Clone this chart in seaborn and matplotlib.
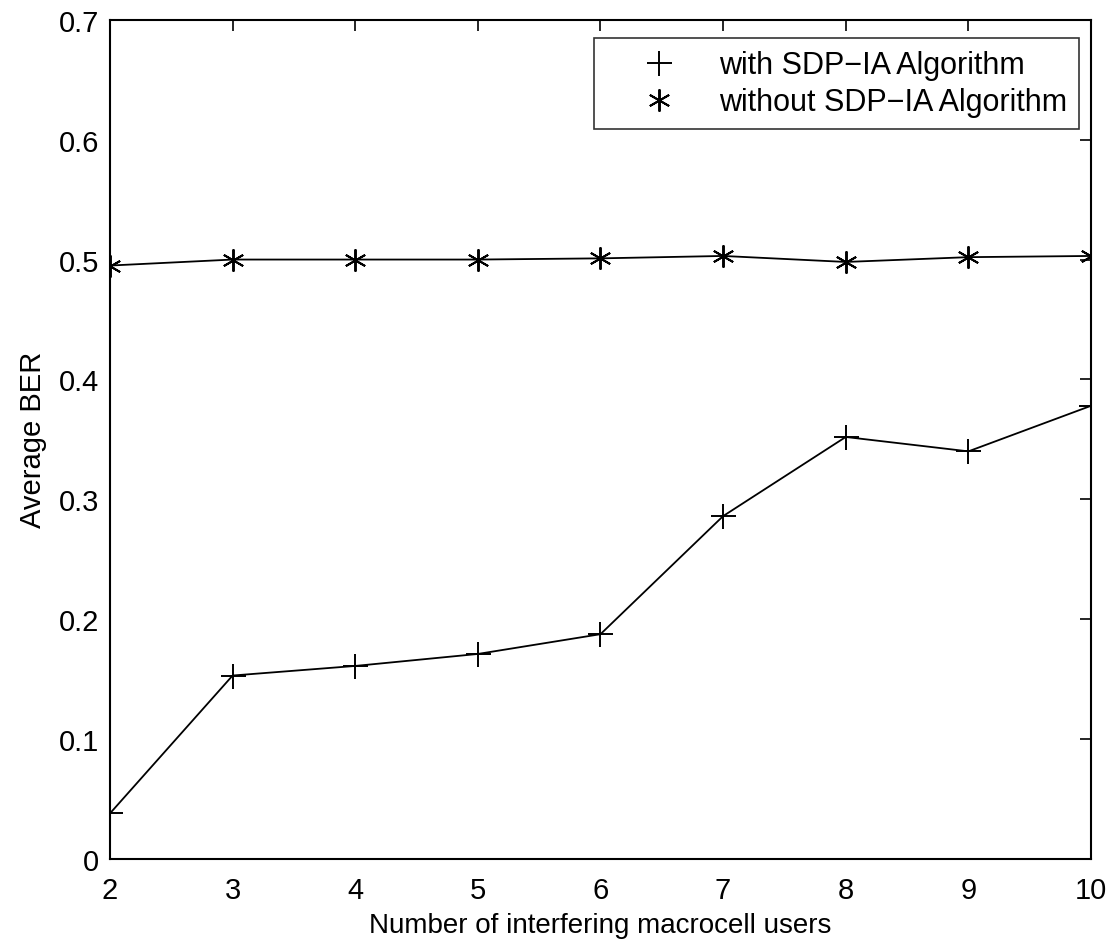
import numpy as np
import pandas as pd
import matplotlib
matplotlib.use('Agg')
import matplotlib.pyplot as plt
import seaborn as sns
from matplotlib.lines import Line2D

users = [2, 3, 4, 5, 6, 7, 8, 9, 10]
ber_with = [0.038, 0.153, 0.161, 0.171, 0.1875, 0.286, 0.352, 0.340, 0.378]
ber_without = [0.495, 0.500, 0.500, 0.500, 0.501, 0.503, 0.498, 0.502, 0.503]
labels = ['with SDP\u2212IA Algorithm', 'without SDP\u2212IA Algorithm']

sns.set_style('white')
plt.rcParams['font.family'] = ['Liberation Sans', 'DejaVu Sans']

df = pd.DataFrame({'users': users, 'with': ber_with, 'without': ber_without})

# matlab style asterisk (6 arms)
star = (6, 2, 0)

fig, ax = plt.subplots(figsize=(11.11, 9.45), dpi=100)
fig.subplots_adjust(left=0.099, right=0.982, top=0.978, bottom=0.090)

sns.lineplot(data=df, x='users', y='with', marker='+', color='black', lw=1.3,
             markersize=18, markeredgewidth=1.4, mec='black', ax=ax)
sns.lineplot(data=df, x='users', y='without', marker=star, color='black', lw=1.3,
             markersize=16, markeredgewidth=1.4, mec='black', ax=ax)

ax.set_xlim(2, 10)
ax.set_ylim(0, 0.7)
ax.set_xticks(users)
ax.set_yticks(np.arange(0, 0.71, 0.1))
ax.set_yticklabels(['0', '0.1', '0.2', '0.3', '0.4', '0.5', '0.6', '0.7'])
ax.tick_params(direction='in', length=8, width=1.2, top=True, right=True,
               labelsize=21, colors='black')
ax.tick_params(axis='x', pad=12)
ax.tick_params(axis='y', pad=8)
for s in ax.spines.values():
    s.set_color('black')
    s.set_linewidth(1.5)
ax.set_xlabel('Number of interfering macrocell users', fontsize=20, labelpad=6, color='black')
ax.set_ylabel('Average BER', fontsize=21, labelpad=8, color='black')

handles = [Line2D([], [], color='black', marker='+', linestyle='none', markersize=18, markeredgewidth=1.4),
           Line2D([], [], color='black', marker=star, linestyle='none', markersize=16, markeredgewidth=1.4)]
leg = ax.legend(handles, labels, loc='upper right', bbox_to_anchor=(0.988, 0.978),
                fontsize=22, frameon=True, fancybox=False,
                borderaxespad=0, handletextpad=0.2, borderpad=0.4, labelspacing=0.22,
                handlelength=3.5)
leg.get_frame().set_edgecolor('black')
leg.get_frame().set_linewidth(1.2)
for t in leg.get_texts():
    t.set_color('black')

fig.savefig('out.png', dpi=100)
